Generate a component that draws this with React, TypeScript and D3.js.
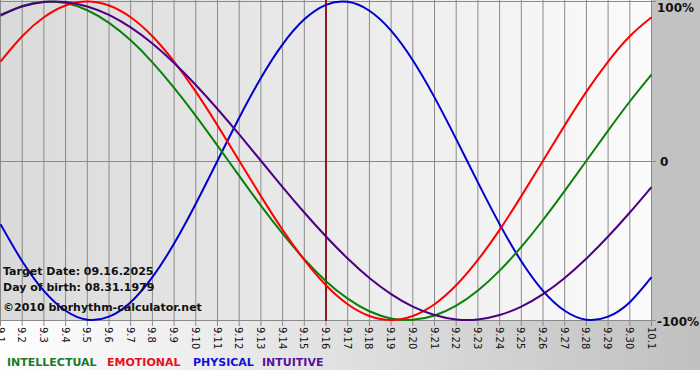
import React from "react";
import * as d3 from "d3";

const dayLabels = ["9.1","9.2","9.3","9.4","9.5","9.6","9.7","9.8","9.9","9.10","9.11","9.12","9.13","9.14","9.15","9.16","9.17","9.18","9.19","9.20","9.21","9.22","9.23","9.24","9.25","9.26","9.27","9.28","9.29","9.30","10.1"];

const physical = [-0.398,-0.631,-0.817,-0.942,-0.998,-0.979,-0.888,-0.731,-0.520,-0.270,0,0.270,0.520,0.731,0.888,0.979,0.998,0.942,0.817,0.631,0.398,0.136,-0.136,-0.398,-0.631,-0.817,-0.942,-0.998,-0.979,-0.888,-0.731];
const emotional = [0.623,0.782,0.901,0.975,1.0,0.975,0.901,0.782,0.623,0.434,0.222,0,-0.222,-0.434,-0.623,-0.782,-0.901,-0.975,-1.0,-0.975,-0.901,-0.782,-0.623,-0.434,-0.222,0,0.222,0.434,0.623,0.782,0.901];
const intellectual = [0.910,0.972,0.999,0.990,0.945,0.866,0.756,0.618,0.458,0.282,0.095,-0.095,-0.282,-0.458,-0.618,-0.756,-0.866,-0.945,-0.990,-0.999,-0.972,-0.910,-0.815,-0.690,-0.541,-0.372,-0.189,0,0.189,0.372,0.541];
const intuitive = [0.916,0.969,0.997,0.997,0.969,0.916,0.837,0.736,0.614,0.476,0.325,0.165,0,-0.165,-0.325,-0.476,-0.614,-0.736,-0.837,-0.916,-0.969,-0.997,-0.997,-0.969,-0.916,-0.837,-0.736,-0.614,-0.476,-0.325,-0.165];

const yTicks = [1, 0, -1];
const yTickLabels = ["100%", "0", "-100%"];
const targetIndex = 15;
const infoLines = ["Target Date: 09.16.2025", "Day of birth: 08.31.1979", "©2010 biorhythm-calculator.net"];
const legendNames = ["INTELLECTUAL", "EMOTIONAL", "PHYSICAL", "INTUITIVE"];

const W = 700, H = 380;
const PW = 651, PB = 321;
const FONT = "'DejaVu Sans', Verdana, sans-serif";

export default function App() {
  const x = d3.scaleLinear().domain([0, dayLabels.length - 1]).range([0.5, PW + 0.5]);
  const y = d3.scaleLinear().domain([-1, 1]).range([320, 1.5]);
  const mk = (arr: number[]) => d3.line<number>().x((_, i) => x(i)).y((d) => y(d)).curve(d3.curveNatural)(arr) || "";
  const series = [
    { name: "INTELLECTUAL", data: intellectual, color: "#0a800a", legend: "#1a7a2a" },
    { name: "EMOTIONAL", data: emotional, color: "#ff0000", legend: "#e8101e" },
    { name: "PHYSICAL", data: physical, color: "#0000cc", legend: "#1010d8" },
    { name: "INTUITIVE", data: intuitive, color: "#4b0082", legend: "#5a109a" },
  ];
  const drawOrder = [2, 0, 1, 3];
  const legendX = [7, 107, 193, 262];
  const yLabelPos = [
    { x: 657, y: 12 },
    { x: 660, y: 166 },
    { x: 657, y: 326 },
  ];
  return (
    <div style={{ position: "absolute", left: 0, top: 0 }}>
      <svg width={W} height={H} style={{ display: "block" }}>
        <defs>
          <linearGradient id="plotbg" x1="0" x2="1" y1="0" y2="0">
            <stop offset="0" stopColor="#dadada" />
            <stop offset="1" stopColor="#fbfbfb" />
          </linearGradient>
          <linearGradient id="botbg" x1="0" x2="1" y1="0" y2="0">
            <stop offset="0" stopColor="#ffffff" />
            <stop offset="1" stopColor="#c0c0c0" />
          </linearGradient>
        </defs>
        <rect x={0} y={0} width={W} height={H} fill="#ffffff" />
        <rect x={0} y={PB} width={W} height={370 - PB} fill="url(#botbg)" />
        <rect x={PW} y={0} width={W - PW} height={PB} fill="#c2c2c2" />
        <rect x={0} y={0} width={PW} height={PB} fill="url(#plotbg)" />
        {dayLabels.map((lab, i) => (
          <line key={"g" + i} x1={x(i)} x2={x(i)} y1={0} y2={PB + 5} stroke="#8a8a8a" strokeWidth={1} />
        ))}
        {yTicks.map((t, i) => {
          const yy = Math.round(y(t)) - (t === 1 ? 1 : 0) + 0.5;
          return <line key={"h" + i} x1={0} x2={PW + 5} y1={yy} y2={yy} stroke="#8a8a8a" strokeWidth={1} />;
        })}
        <line x1={x(targetIndex)} x2={x(targetIndex)} y1={0} y2={PB} stroke="#8b1c1c" strokeWidth={2} />
        {drawOrder.map((si) => (
          <path key={"s" + si} d={mk(series[si].data)} fill="none" stroke={series[si].color} strokeWidth={2} />
        ))}
        {dayLabels.map((lab, i) => (
          <text key={"l" + i} transform={`translate(${x(i) - 4},${PB + 6}) rotate(90)`} fontFamily={FONT} fontSize={10} fill="#111">{lab}</text>
        ))}
        {yTickLabels.map((lab, i) => (
          <text key={"yl" + i} x={yLabelPos[i].x} y={yLabelPos[i].y} fontFamily={FONT} fontSize={12} fontWeight="bold" fill="#111">{lab}</text>
        ))}
        {infoLines.map((s, i) => (
          <text key={"i" + i} x={3} y={[275, 291, 311][i]} fontFamily={FONT} fontSize={11} fontWeight="bold" fill="#111">{s}</text>
        ))}
        {legendNames.map((n, i) => (
          <text key={"lg" + i} x={legendX[i]} y={366} fontFamily={FONT} fontSize={11} fontWeight="bold" fill={series[i].legend}>{n}</text>
        ))}
      </svg>
    </div>
  );
}
